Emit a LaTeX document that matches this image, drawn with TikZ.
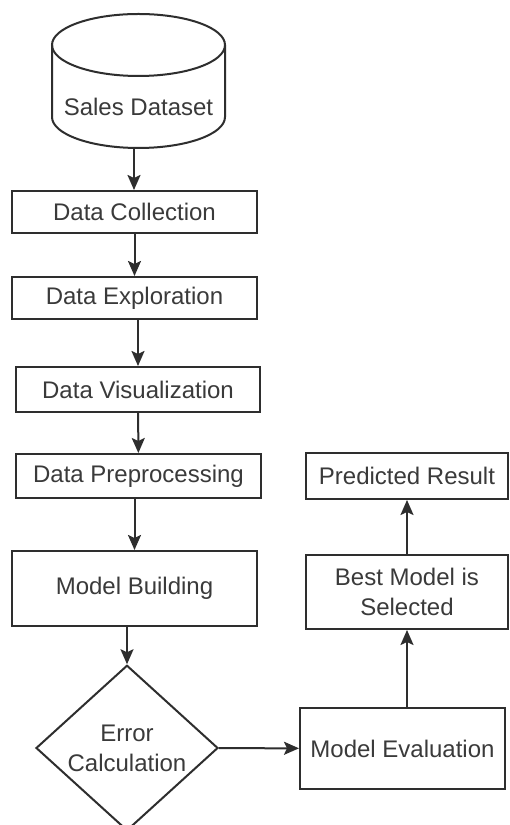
\documentclass[tikz,border=0pt]{standalone}
\usepackage{fontspec}
\setmainfont{Liberation Sans}
\usetikzlibrary{arrows.meta}
\usetikzlibrary{shapes.geometric}
\usetikzlibrary{positioning}

\definecolor{linegray}{HTML}{2E2E2E}
\definecolor{textgray}{HTML}{3A3A3A}

\begin{document}
\begin{tikzpicture}[
    x=1pt, y=1pt,
    every node/.style={font=\fontsize{24}{30}\selectfont, text=textgray},
    stage/.style={rectangle, draw=linegray, line width=2pt, inner sep=0pt, align=center},
    decision/.style={diamond, draw=linegray, line width=2pt, inner sep=0pt, align=center,
      minimum width=182pt, minimum height=162pt},
    db/.style={draw=linegray, line width=2pt},
    arrow/.style={draw=linegray, line width=2pt, >={Stealth[length=15pt,width=13pt,inset=3pt]}},
    pre/.style={arrow, <-},
    post/.style={arrow, ->}
  ]
  \useasboundingbox[fill=white] (0,0) rectangle (509,825);

  % dataset cylinder
  \draw[db] (52,780) -- (52,708)
    arc[start angle=180, end angle=360, x radius=86.5pt, y radius=31pt] -- (225,780);
  \draw[db] (138.5,780) ellipse [x radius=86.5pt, y radius=31pt];
  \node (sales) at (138.5,718) {Sales Dataset};
  \coordinate (salesbot) at (134,677);

  % left column
  \node[stage, minimum width=245pt, minimum height=42pt] (collect) at (134.5,613) {Data Collection};
  \node[stage, minimum width=245pt, minimum height=42pt] (explore) at (134.5,527) {Data Exploration};
  \node[stage, minimum width=244pt, minimum height=45pt] (visual) at (138,435.5) {Data Visualization};
  \node[stage, minimum width=245pt, minimum height=44pt] (prep) at (138.5,349) {Data Preprocessing};
  \node[stage, minimum width=245pt, minimum height=75pt] (build) at (134.5,236.5) {Model Building};
  \node[decision] (err) at (127,77) {Error\\Calculation};

  % right column
  \node[stage, minimum width=205pt, minimum height=81pt] (eval) at (402.5,76.5) {Model Evaluation};
  \node[stage, minimum width=202pt, minimum height=74pt] (best) at (407,233) {Best Model is\\Selected};
  \node[stage, minimum width=202pt, minimum height=46pt] (result) at (407,349) {Predicted Result};

  \draw[post] (salesbot) -- (collect.north -| salesbot);
  \draw[post] (collect) -- (explore);
  \draw[post] (explore.south -| visual.north) -- (visual.north);
  \draw[post] (visual) -- (prep);
  \draw[post] (prep.south -| build.north) -- (build.north);
  \draw[post] (build.south -| err.north) -- (err.north);
  \draw[post] (err) -- (eval);
  \draw[post] (eval.north -| best.south) -- (best.south);
  \draw[post] (best) -- (result);
\end{tikzpicture}
\end{document}
